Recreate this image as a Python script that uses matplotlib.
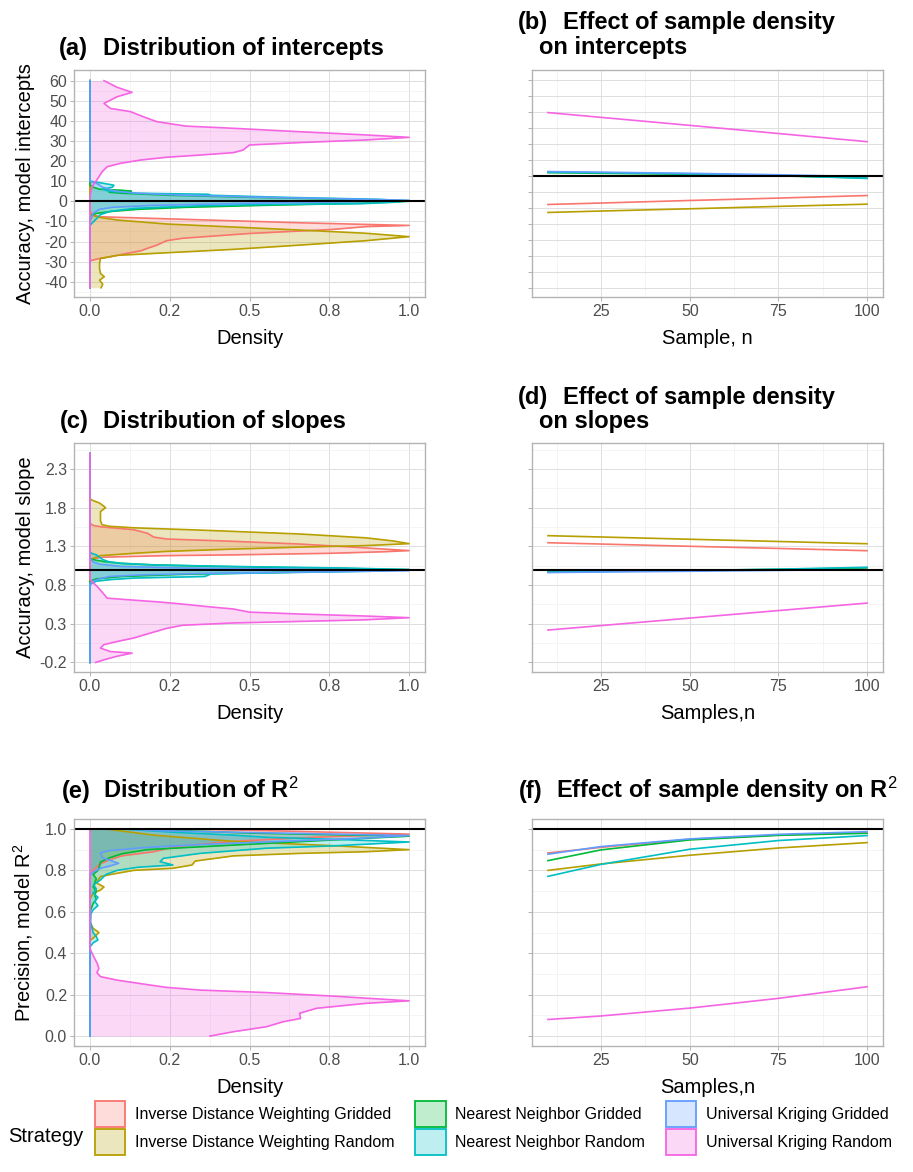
#six panel figure: scaled densities of accuracy/precision and effect of sample size
import matplotlib
matplotlib.use('Agg')
import matplotlib.pyplot as plt
from matplotlib.patches import Patch
from matplotlib.colors import to_rgba
import numpy as np

plt.rcParams['font.family'] = ['Liberation Sans', 'DejaVu Sans']
plt.rcParams['mathtext.fontset'] = 'custom'
plt.rcParams['mathtext.rm'] = 'Liberation Sans'
plt.rcParams['mathtext.default'] = 'regular'

strategies = ['Inverse Distance Weighting Gridded', 'Inverse Distance Weighting Random',
              'Nearest Neighbor Gridded', 'Nearest Neighbor Random',
              'Universal Kriging Gridded', 'Universal Kriging Random']
colors = ['#F8766D', '#B79F00', '#00BA38', '#00BFC4', '#619CFF', '#F564E3']

#(a) intercept densities (value, scaled density)
a_range = (-43, 60)
a_idw_g_v = [-5, -6, -7, -7.7, -8.7, -9.7, -10.7, -11.5, -12, -12.6, -14, -16, -18.4, -19.6, -21.8, -23.4, -24.6, -25.9, -27.6, -28.7, -29.5, -31]
a_idw_g_d = [0, 0.005, 0.015, 0.033, 0.24, 0.45, 0.66, 0.865, 1.0, 0.865, 0.76, 0.5, 0.29, 0.24, 0.21, 0.18, 0.16, 0.116, 0.064, 0.023, 0.002, 0]
a_idw_r_v = [-5, -6.8, -8, -9.3, -11.3, -12.8, -14.3, -15.9, -17.6, -19.6, -21.8, -23.9, -25.6, -26.9, -28.4, -30.9, -33.5, -35.9, -37.5, -39.2, -41.2, -43]
a_idw_r_d = [0, 0.003, 0.03, 0.085, 0.24, 0.45, 0.657, 0.865, 1.0, 0.865, 0.657, 0.45, 0.24, 0.085, 0.033, 0.03, 0.03, 0.033, 0.045, 0.03, 0.04, 0.035]
a_nn_g_v = [8, 7, 6, 5.5, 5, 4.5, 4, 3, 2, 1, 0, -1, -2, -3, -4, -5, -6, -7, -8]
a_nn_g_d = [0, 0.01, 0.03, 0.1, 0.13, 0.06, 0.1, 0.25, 0.5, 0.8, 1.0, 0.85, 0.55, 0.3, 0.15, 0.07, 0.02, 0.005, 0]
a_nn_r_v = [10, 9, 8, 7, 6, 5, 4, 3.5, 3, 2, 1, 0.3, -0.5, -1.2, -1.6, -2.2, -3.5, -5, -6.6, -8.3, -10.8, -12]
a_nn_r_d = [0, 0.04, 0.075, 0.07, 0.04, 0.06, 0.15, 0.37, 0.38, 0.6, 0.9, 1.0, 0.95, 0.85, 0.55, 0.35, 0.14, 0.064, 0.033, 0.023, 0.007, 0]
a_uk_g_v = [60, 10, 9, 7, 5, 4, 3, 2, 1, 0.5, 0, -1, -2, -3, -4, -6, -10, -43]
a_uk_g_d = [0, 0, 0.02, 0.04, 0.08, 0.15, 0.3, 0.55, 0.85, 1.0, 0.9, 0.5, 0.2, 0.07, 0.03, 0.01, 0, 0]
a_uk_r_v = [60, 56.7, 54.2, 52, 48.7, 46.2, 44.6, 42, 39.6, 37.4, 36.3, 34.6, 33, 31.8, 30.5, 29.2, 28, 25.5, 24.2, 23, 21.9, 20.5, 18.9, 17.2, 14.7, 12.2, 9.8, 7.3, 4, 2, -43]
a_uk_r_d = [0.044, 0.085, 0.132, 0.085, 0.044, 0.064, 0.127, 0.168, 0.21, 0.30, 0.45, 0.657, 0.865, 1.0, 0.865, 0.657, 0.50, 0.48, 0.45, 0.345, 0.24, 0.158, 0.096, 0.054, 0.038, 0.028, 0.018, 0.007, 0.002, 0, 0]

#(c) slope densities
c_range = (-0.2, 2.5)
c_idw_g_v = [1.6, 1.57, 1.55, 1.515, 1.47, 1.42, 1.395, 1.365, 1.33, 1.28, 1.245, 1.23, 1.21, 1.19, 1.18, 1.17, 1.16, 1.14, 1.12]
c_idw_g_d = [0, 0.01, 0.04, 0.137, 0.18, 0.2, 0.24, 0.45, 0.657, 0.865, 1.0, 0.92, 0.75, 0.45, 0.24, 0.14, 0.04, 0.01, 0]
c_idw_r_v = [1.92, 1.9, 1.86, 1.83, 1.80, 1.75, 1.69, 1.63, 1.58, 1.56, 1.54, 1.51, 1.46, 1.41, 1.37, 1.335, 1.31, 1.29, 1.265, 1.235, 1.21, 1.18, 1.16, 1.13, 1.1]
c_idw_r_d = [0, 0.005, 0.03, 0.04, 0.049, 0.033, 0.033, 0.033, 0.038, 0.06, 0.137, 0.345, 0.657, 0.865, 0.95, 1.0, 0.865, 0.657, 0.45, 0.24, 0.137, 0.033, 0.02, 0.002, 0]
c_nn_g_v = [1.14, 1.12, 1.1, 1.08, 1.06, 1.04, 1.02, 1.0, 0.97, 0.94, 0.91, 0.88, 0.85]
c_nn_g_d = [0, 0.02, 0.05, 0.1, 0.2, 0.4, 0.7, 1.0, 0.7, 0.3, 0.1, 0.02, 0]
c_nn_r_v = [1.23, 1.21, 1.19, 1.16, 1.13, 1.1, 1.08, 1.06, 1.04, 1.02, 1.0, 0.98, 0.96, 0.945, 0.91, 0.89, 0.87, 0.85, 0.82, 0.8]
c_nn_r_d = [0, 0.005, 0.02, 0.03, 0.04, 0.06, 0.1, 0.2, 0.45, 0.8, 1.0, 0.9, 0.6, 0.38, 0.36, 0.137, 0.064, 0.02, 0.005, 0]
c_uk_g_v = [2.5, 1.15, 1.1, 1.07, 1.04, 1.02, 1.0, 0.985, 0.97, 0.95, 0.93, 0.91, 0.88, 0.85, 0.82, -0.2]
c_uk_g_d = [0, 0, 0.01, 0.03, 0.1, 0.3, 0.8, 1.0, 0.7, 0.35, 0.15, 0.06, 0.03, 0.01, 0, 0]
c_uk_r_v = [2.5, 0.88, 0.85, 0.78, 0.7, 0.63, 0.61, 0.58, 0.55, 0.52, 0.49, 0.45, 0.425, 0.40, 0.378, 0.35, 0.33, 0.31, 0.28, 0.24, 0.18, 0.115, 0.07, 0.03, -0.015, -0.06, -0.08, -0.12, -0.166, -0.2]
c_uk_r_d = [0, 0, 0.005, 0.023, 0.04, 0.054, 0.12, 0.22, 0.3, 0.37, 0.45, 0.5, 0.66, 0.86, 1.0, 0.86, 0.66, 0.45, 0.29, 0.24, 0.19, 0.137, 0.085, 0.044, 0.033, 0.064, 0.132, 0.085, 0.044, 0.018]

#(e) R2 densities
e_range = (0.0, 1.0)
e_idw_g_v = [1.0, 0.99, 0.975, 0.96, 0.94, 0.915, 0.89, 0.87, 0.85, 0.83, 0.8, 0.78]
e_idw_g_d = [0.3, 0.6, 1.0, 0.7, 0.45, 0.27, 0.2, 0.1, 0.06, 0.03, 0.01, 0]
e_idw_r_v = [1.0, 0.97, 0.94, 0.92, 0.9, 0.89, 0.882, 0.87, 0.845, 0.826, 0.81, 0.8, 0.78, 0.77, 0.74, 0.72, 0.705, 0.69, 0.66, 0.55, 0.52, 0.5, 0.48, 0.46]
e_idw_r_d = [0.05, 0.2, 0.45, 0.75, 1.0, 0.865, 0.657, 0.45, 0.33, 0.32, 0.26, 0.137, 0.064, 0.033, 0.02, 0.044, 0.033, 0.01, 0, 0, 0.01, 0.028, 0.015, 0]
e_nn_g_v = [1.0, 0.98, 0.965, 0.95, 0.93, 0.91, 0.9, 0.88, 0.86, 0.84, 0.82, 0.8, 0.78, 0.76, 0.72, 0.7, 0.68, 0.66, 0.64, 0.62, 0.6]
e_nn_g_d = [0.15, 0.5, 1.0, 0.8, 0.55, 0.3, 0.18, 0.1, 0.06, 0.033, 0.03, 0.025, 0.01, 0.02, 0.01, 0.02, 0.015, 0.02, 0.01, 0.005, 0]
e_nn_r_v = [1.0, 0.985, 0.97, 0.96, 0.95, 0.937, 0.918, 0.907, 0.882, 0.858, 0.842, 0.826, 0.815, 0.80, 0.78, 0.754, 0.73, 0.71, 0.69, 0.67, 0.65, 0.63, 0.61, 0.59, 0.55, 0.5, 0.48, 0.464, 0.45, 0.43]
e_nn_r_d = [0.1, 0.25, 0.45, 0.55, 0.76, 1.0, 0.76, 0.553, 0.345, 0.23, 0.22, 0.26, 0.15, 0.085, 0.05, 0.033, 0.012, 0.02, 0.01, 0.025, 0.015, 0.025, 0.01, 0.003, 0.002, 0.01, 0.02, 0.025, 0.01, 0]
e_uk_g_v = [1.0, 0.99, 0.98, 0.968, 0.955, 0.94, 0.925, 0.91, 0.895, 0.884, 0.86, 0.845, 0.834, 0.82, 0.81, 0.787, 0.77, 0.0]
e_uk_g_d = [0.1, 0.25, 0.6, 1.0, 0.85, 0.6, 0.35, 0.17, 0.06, 0.033, 0.04, 0.07, 0.09, 0.06, 0.033, 0.005, 0, 0]
e_uk_r_v = [1.0, 0.43, 0.415, 0.383, 0.35, 0.327, 0.306, 0.287, 0.27, 0.246, 0.235, 0.222, 0.21, 0.193, 0.17, 0.158, 0.134, 0.11, 0.085, 0.069, 0.045, 0.021, 0.0]
e_uk_r_d = [0, 0, 0.002, 0.012, 0.023, 0.028, 0.022, 0.033, 0.085, 0.19, 0.24, 0.345, 0.553, 0.76, 1.0, 0.865, 0.71, 0.657, 0.66, 0.605, 0.553, 0.45, 0.376]

#(b),(d),(f) fitted trends against number of samples
n_samples = [10, 25, 50, 75, 100]
b_idw_g = [-17.9, -17.0, -15.4, -13.9, -12.3]
b_idw_r = [-22.9, -22.0, -20.6, -19.1, -17.7]
b_nn_g = [2.0, 1.6, 1.0, 0.0, -1.3]
b_nn_r = [2.3, 2.0, 1.3, 0.2, -1.6]
b_uk_g = [2.7, 2.3, 1.6, 0.7, -0.5]
b_uk_r = [39.6, 36.6, 31.6, 26.5, 21.4]

d_idw_g = [1.347, 1.330, 1.301, 1.273, 1.244]
d_idw_r = [1.438, 1.421, 1.392, 1.363, 1.334]
d_nn_g = [0.97, 0.978, 0.99, 1.003, 1.02]
d_nn_r = [0.965, 0.976, 0.987, 1.005, 1.03]
d_uk_g = [0.962, 0.968, 0.978, 0.99, 1.0]
d_uk_r = [0.218, 0.276, 0.373, 0.47, 0.567]

f_idw_g = [0.884, 0.911, 0.95, 0.971, 0.982]
f_idw_r = [0.80, 0.831, 0.873, 0.908, 0.934]
f_nn_g = [0.847, 0.899, 0.947, 0.969, 0.979]
f_nn_r = [0.771, 0.829, 0.902, 0.944, 0.968]
f_uk_g = [0.878, 0.915, 0.952, 0.974, 0.987]
f_uk_r = [0.08, 0.097, 0.135, 0.182, 0.238]

W, H = 913, 1172
fig = plt.figure(figsize=(W / 100, H / 100), dpi=100)

def px_axes(l, t, r, b):
    return fig.add_axes([l / W, 1 - b / H, (r - l) / W, (b - t) / H])

def style(ax, xt, xl, xm, yt, ylab, ym):
    ax.set_xticks(xt)
    ax.set_xticklabels(xl)
    ax.set_xticks(xm, minor=True)
    ax.set_yticks(yt)
    ax.set_yticklabels(ylab)
    ax.set_yticks(ym, minor=True)
    ax.grid(which='major', color='#DEDEDE', lw=0.7)
    ax.grid(which='minor', color='#EDEDED', lw=0.4)
    ax.set_axisbelow(True)
    ax.tick_params(which='minor', length=0)
    ax.tick_params(which='major', length=3, width=0.7, color='#B3B3B3',
                   labelsize=11.5, labelcolor='#4D4D4D', pad=2)
    for s in ax.spines.values():
        s.set_color('#B3B3B3')
        s.set_linewidth(1.0)

def density(ax, v, d, c, rng):
    v = list(v)
    d = list(d)
    if v[0] < rng[1]:
        v = [rng[1]] + v
        d = [0] + d
    if v[-1] > rng[0]:
        v = v + [rng[0]]
        d = d + [0]
    ax.fill_betweenx(v, 0, d, color=to_rgba(c, 0.25), lw=0)
    ax.plot(d, v, color=c, lw=1.2)

def title(x, y, tag, text):
    fig.text(x[0] / W, 1 - y / H, tag, fontsize=17, fontweight='bold', va='baseline')
    fig.text(x[1] / W, 1 - y / H, text, fontsize=17, fontweight='bold', va='baseline')

dens_xt = [0, 0.25, 0.5, 0.75, 1.0]
dens_xl = ['0.0', '0.2', '0.5', '0.8', '1.0']
dens_xm = [0.125, 0.375, 0.625, 0.875]
n_xt = [25, 50, 75, 100]
n_xm = [12.5, 37.5, 62.5, 87.5]

a_yt = list(range(-40, 61, 10))
c_yt = [-0.2, 0.3, 0.8, 1.3, 1.8, 2.3]
c_ym = [0.05, 0.55, 1.05, 1.55, 2.05, 2.55]
e_yt = [0, 0.2, 0.4, 0.6, 0.8, 1.0]
e_ym = [0.1, 0.3, 0.5, 0.7, 0.9]

dens_a = [(a_idw_g_v, a_idw_g_d), (a_idw_r_v, a_idw_r_d), (a_nn_g_v, a_nn_g_d),
          (a_nn_r_v, a_nn_r_d), (a_uk_g_v, a_uk_g_d), (a_uk_r_v, a_uk_r_d)]
dens_c = [(c_idw_g_v, c_idw_g_d), (c_idw_r_v, c_idw_r_d), (c_nn_g_v, c_nn_g_d),
          (c_nn_r_v, c_nn_r_d), (c_uk_g_v, c_uk_g_d), (c_uk_r_v, c_uk_r_d)]
dens_e = [(e_idw_g_v, e_idw_g_d), (e_idw_r_v, e_idw_r_d), (e_nn_g_v, e_nn_g_d),
          (e_nn_r_v, e_nn_r_d), (e_uk_g_v, e_uk_g_d), (e_uk_r_v, e_uk_r_d)]
trend_b = [b_idw_g, b_idw_r, b_nn_g, b_nn_r, b_uk_g, b_uk_r]
trend_d = [d_idw_g, d_idw_r, d_nn_g, d_nn_r, d_uk_g, d_uk_r]
trend_f = [f_idw_g, f_idw_r, f_nn_g, f_nn_r, f_uk_g, f_uk_r]

rows = [
    (70, 297, dens_a, a_range, trend_b, 0, (-47.6, 65.3), a_yt, [str(t) for t in a_yt],
     list(range(-45, 60, 10)), (-75.8, 66.25), list(range(-70, 61, 10)), [],
     'Accuracy, model intercepts', 'Sample, n'),
    (443, 672, dens_c, c_range, trend_d, 1.0, (-0.324, 2.636), c_yt, [str(t) for t in c_yt],
     c_ym, (-0.324, 2.636), c_yt, c_ym, 'Accuracy, model slope', 'Samples,n'),
    (819, 1046, dens_e, e_range, trend_f, 1.0, (-0.048, 1.048), e_yt, ['%.1f' % t for t in e_yt],
     e_ym, (-0.048, 1.048), e_yt, e_ym, r'Precision, model R$^\mathrm{2}$', 'Samples,n'),
]

for top, bot, dens, rng, trends, ref, ylim, yt, ylab, ym, ylim2, yt2, ym2, ylabel, xlabel2 in rows:
    ax = px_axes(74, top, 425, bot)
    for (v, d), c in zip(dens, colors):
        density(ax, v, d, c, rng)
    ax.axhline(ref, color='black', lw=1.5)
    ax.set_xlim(-0.05, 1.05)
    ax.set_ylim(*ylim)
    style(ax, dens_xt, dens_xl, dens_xm, yt, ylab, ym)
    ax.set_xlabel('Density', fontsize=14.5)
    ax.set_ylabel(ylabel, fontsize=14.5)
    ax.xaxis.set_label_coords(0.5, -0.14)
    ax.yaxis.set_label_coords(-0.112, 0.5)

    ax2 = px_axes(532, top, 883, bot)
    for vals, c in zip(trends, colors):
        ax2.plot(n_samples, vals, color=c, lw=1.2)
    ax2.axhline(ref, color='black', lw=1.5)
    ax2.set_xlim(5.5, 104.5)
    ax2.set_ylim(*ylim2)
    style(ax2, n_xt, [str(t) for t in n_xt], n_xm, yt2, [''] * len(yt2), ym2)
    ax2.set_xlabel(xlabel2, fontsize=14.5)
    ax2.xaxis.set_label_coords(0.5, -0.14)

title((59, 103), 55, '(a)', 'Distribution of intercepts')
title((518, 563), 29, '(b)', 'Effect of sample density')
fig.text(539 / W, 1 - 54 / H, 'on intercepts', fontsize=17, fontweight='bold', va='baseline')
title((60, 103), 428, '(c)', 'Distribution of slopes')
title((518, 563), 404, '(d)', 'Effect of sample density')
fig.text(539 / W, 1 - 428 / H, 'on slopes', fontsize=17, fontweight='bold', va='baseline')
title((62, 103), 798, '(e)', r'Distribution of R$^\mathrm{2}$')
title((519, 556), 798, '(f)', r'Effect of sample density on R$^\mathrm{2}$')

handles = [Patch(facecolor=to_rgba(c, 0.25), edgecolor=c, linewidth=1.3) for c in colors]
fig.legend(handles, strategies, ncol=3, loc='upper left',
           bbox_to_anchor=(95 / W, 1 - 1101 / H), frameon=False, fontsize=11.5,
           handlelength=1.9, handleheight=2.15, handletextpad=0.6,
           columnspacing=1.3, labelspacing=0.1, borderpad=0, borderaxespad=0)
fig.text(8 / W, 1 - 1137 / H, 'Strategy', fontsize=14.5, va='center')

plt.savefig('out.png', dpi=100)
